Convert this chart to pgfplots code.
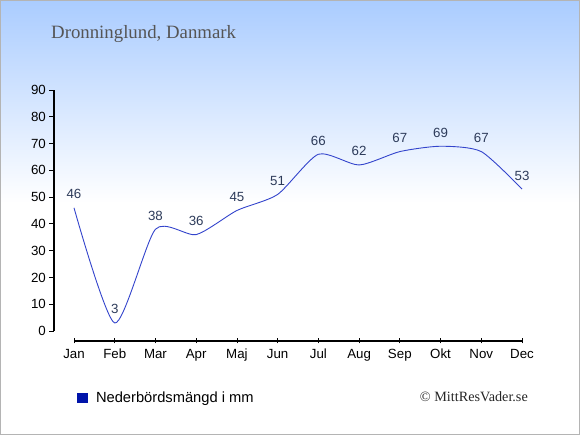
\documentclass[border=0pt]{standalone}
\usepackage{pgfplots}
\pgfplotsset{compat=1.18}
\usepackage{fontspec}
\setmainfont{Liberation Serif}
\setsansfont{Liberation Sans}
\newfontfamily\arial{Liberation Sans}
\definecolor{bgtop}{RGB}{170,204,255}
\definecolor{bordergray}{RGB}{180,180,180}
\definecolor{titlegray}{RGB}{85,85,85}
\definecolor{linecol}{RGB}{51,68,204}
\definecolor{labcol}{RGB}{45,59,90}
\definecolor{legblue}{RGB}{0,20,170}
\begin{document}
\begin{tikzpicture}[x=1pt,y=1pt]
\useasboundingbox (0,0) rectangle (580,435);
\fill[white] (0,0) rectangle (580,435);
\shade[top color=bgtop, bottom color=white] (0,232) rectangle (580,435);
\draw[bordergray, line width=1pt] (0.5,0.5) rectangle (579.5,434.5);
\node[anchor=base west, inner sep=0pt, text=titlegray, font=\fontsize{18.8}{20}\selectfont] at (51,396.7) {Dronninglund, Danmark};
\node[anchor=base east, inner sep=0pt, text=black!85, font=\fontsize{14.2}{16}\selectfont] at (528,33) {\textcopyright\ MittResVader.se};
\begin{axis}[
  scale only axis, width=468pt, height=251pt,
  at={(54pt,94pt)}, anchor=south west,
  xmin=-0.491, xmax=11, ymin=-3.73, ymax=90,
  clip=false,
  /pgf/number format/assume math mode=true,
  axis line style={draw=none},
  xtick={0,...,11},
  xticklabels={Jan,Feb,Mar,Apr,Maj,Jun,Jul,Aug,Sep,Okt,Nov,Dec},
  ytick={0,10,...,90},
  xtick pos=lower, ytick pos=left,
  xtick align=center, ytick align=outside,
  major tick length=5pt,
  tick style={black, line width=0.8pt},
  xticklabel style={font=\arial\fontsize{13.3}{14}\selectfont, anchor=base, inner sep=0pt, yshift=-15pt},
  yticklabel style={font=\arial\fontsize{13.3}{14}\selectfont, anchor=east, inner sep=0pt, xshift=-3pt},
  legend image code/.code={\fill[legblue] (0pt,-4.5pt) rectangle (10pt,4.5pt);},
  legend style={at={(axis description cs:0.049,-0.227)}, anchor=west, draw=none, fill=none, inner sep=0pt, font=\arial\fontsize{14.7}{16}\selectfont,
    /tikz/every odd column/.append style={column sep=6pt}},
]
\draw[black, line width=1.2pt] (axis cs:0,-3.73) -- (axis cs:11,-3.73);
\draw[black, line width=1.2pt] (axis cs:-0.491,0) -- (axis cs:-0.491,90);
\addplot[linecol, line width=0.9pt, smooth, tension=0.4,
  nodes near coords,
  every node near coord/.append style={font=\arial\fontsize{13.3}{14}\selectfont, text=labcol, anchor=base, inner sep=0pt, yshift=9pt}]
  coordinates {(0,46) (1,3) (2,38) (3,36) (4,45) (5,51) (6,66) (7,62) (8,67) (9,69) (10,67) (11,53)};
\addlegendentry{Nederbördsmängd i mm}
\end{axis}
\end{tikzpicture}
\end{document}
